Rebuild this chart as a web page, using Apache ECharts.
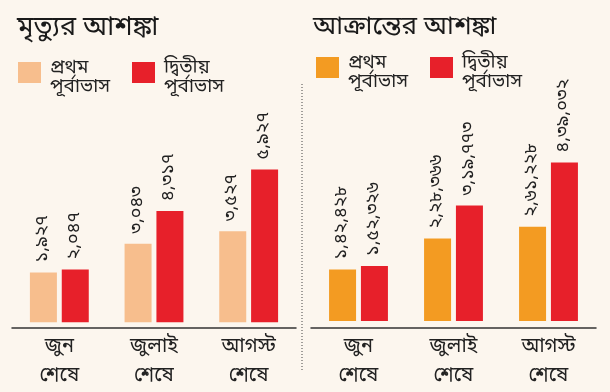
<!DOCTYPE html>
<html><head><meta charset="utf-8">
<script src="https://cdn.jsdelivr.net/npm/echarts@6/dist/echarts.min.js"></script>
<style>html,body{margin:0;padding:0;background:#FCF6EE;}#c{width:610px;height:392px;}</style>
</head><body><div id="c"></div>
<script>
const categories = ['জুন\nশেষে', 'জুলাই\nশেষে', 'আগস্ট\nশেষে'];
const deathFirst = [1927, 3043, 3527];
const deathSecond = [2047, 4317, 5927];
const caseFirst = [142428, 228366, 261228];
const caseSecond = [152326, 319773, 439032];
const leftTitle = 'মৃত্যুর আশঙ্কা';
const rightTitle = 'আক্রান্তের আশঙ্কা';
const legendFirst = 'প্রথম\nপূর্বাভাস';
const legendSecond = 'দ্বিতীয়\nপূর্বাভাস';

const FONT = "'Noto Sans Bengali','Lohit Bengali','FreeSans','Noto Sans',sans-serif";
const bnDigits = '০১২৩৪৫৬৭৮৯';
function bnFormat(v){
  let s = String(Math.round(v));
  let last3 = s.slice(-3), rest = s.slice(0,-3);
  if(rest){ rest = rest.replace(/\B(?=(\d{2})+(?!\d))/g, ','); s = rest + ',' + last3; } else s = last3;
  return s.replace(/\d/g, d => bnDigits[+d]);
}
const C_PEACH = '#F7BE8D', C_RED = '#E7202A', C_ORANGE = '#F39B22';
const chart = echarts.init(document.getElementById('c'));
function xAx(i){
  return {type:'category', gridIndex:i, data:categories,
    axisLine:{show:true, onZero:false, lineStyle:{color:'#333', width:1.5}},
    axisTick:{show:false},
    axisLabel:{fontFamily:FONT, fontSize:20, color:'#222', lineHeight:29, margin:6}};
}
function yAx(i,min,max){ return {type:'value', gridIndex:i, min:min, max:max, show:false, splitLine:{show:false}}; }
const lbl = {show:true, position:'top', rotate:90, align:'left', verticalAlign:'middle', distance:10,
  fontFamily:FONT, fontSize:18, color:'#222', formatter:p=>bnFormat(p.value)};
function legendG(x,y,color,text){
  return [
    {type:'rect', shape:{x:x, y:y, width:23, height:21}, style:{fill:color}},
    {type:'text', x:x+32, y:y-2, style:{text:text, fontFamily:FONT, fontSize:19, fill:'#222', lineHeight:19}}
  ];
}
chart.setOption({
  backgroundColor:'#FCF6EE',
  animation:false,
  grid:[
    {left:12, width:284, top:100, bottom:62},
    {left:311, width:285, top:100, bottom:62}
  ],
  xAxis:[xAx(0), xAx(1)],
  yAxis:[yAx(0,-227,8620), yAx(1,-19500,612000)],
  series:[
    {type:'bar', xAxisIndex:0, yAxisIndex:0, data:deathFirst, barWidth:27, barGap:'18%', itemStyle:{color:C_PEACH}, label:lbl},
    {type:'bar', xAxisIndex:0, yAxisIndex:0, data:deathSecond, barWidth:27, barGap:'18%', itemStyle:{color:C_RED}, label:lbl},
    {type:'bar', xAxisIndex:1, yAxisIndex:1, data:caseFirst, barWidth:27, barGap:'18%', itemStyle:{color:C_ORANGE}, label:lbl},
    {type:'bar', xAxisIndex:1, yAxisIndex:1, data:caseSecond, barWidth:27, barGap:'18%', itemStyle:{color:C_RED}, label:lbl}
  ],
  graphic:[
    {type:'text', x:17, y:16, style:{text:leftTitle, fontFamily:FONT, fontSize:27, fill:'#1a1a1a'}},
    {type:'text', x:313, y:16, style:{text:rightTitle, fontFamily:FONT, fontSize:26, fill:'#1a1a1a'}},
    ...legendG(18,62,C_PEACH,legendFirst),
    ...legendG(132,62,C_RED,legendSecond),
    ...legendG(316,57,C_ORANGE,legendFirst),
    ...legendG(430,57,C_RED,legendSecond),
    {type:'line', shape:{x1:302, y1:84, x2:302, y2:372}, style:{stroke:'#444', lineWidth:1, lineDash:[1,2]}}
  ]
});
</script></body></html>
